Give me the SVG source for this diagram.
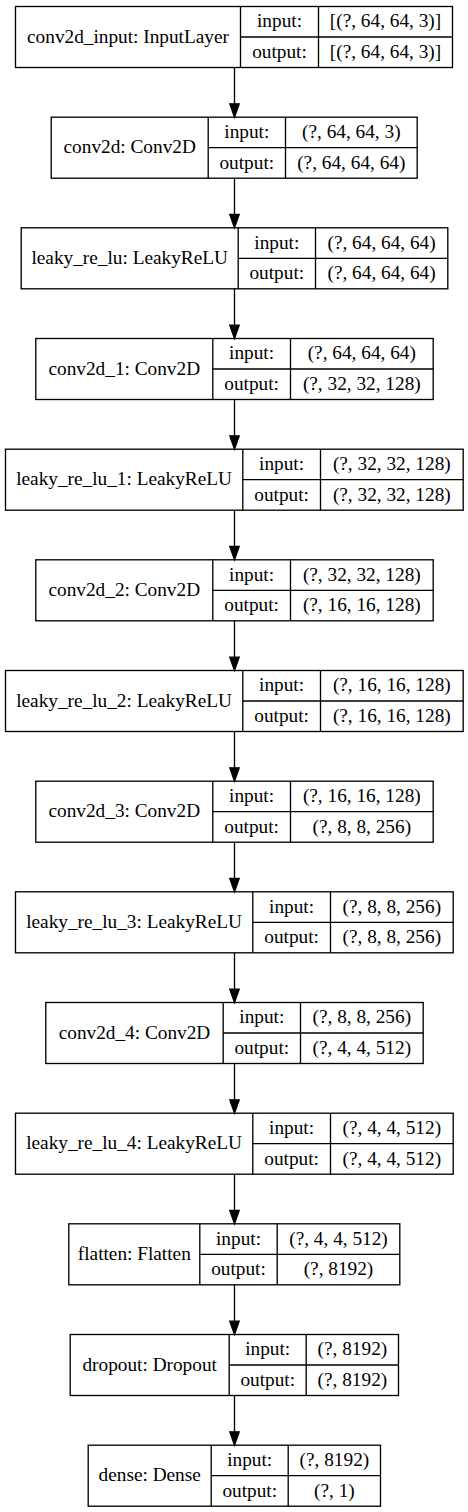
<svg xmlns="http://www.w3.org/2000/svg" width="468" height="1512" viewBox="0 0 468 1512">
<style>
.box{fill:none;stroke:#000;stroke-width:1.33}
.ln{stroke:#000;stroke-width:1.33}
.t{font-family:'Liberation Serif','Times New Roman',Times,serif;font-size:19.3px;fill:#000;text-anchor:middle}
.edge{stroke:#000;stroke-width:1.33;fill:none}
.head{fill:#000;stroke:#000;stroke-width:1.33}
</style>
<rect width="468" height="1512" fill="#fff"/>
<g id="connectors">
<path class="edge" d="M234.5,67.5V103.8"/><polygon class="head" points="229.8,103.8 234.5,117.2 239.2,103.8"/>
<path class="edge" d="M234.5,178.2V214.5"/><polygon class="head" points="229.8,214.5 234.5,227.8 239.2,214.5"/>
<path class="edge" d="M234.5,288.8V325.2"/><polygon class="head" points="229.8,325.2 234.5,338.5 239.2,325.2"/>
<path class="edge" d="M234.5,399.5V435.8"/><polygon class="head" points="229.8,435.8 234.5,449.2 239.2,435.8"/>
<path class="edge" d="M234.5,510.2V546.5"/><polygon class="head" points="229.8,546.5 234.5,559.8 239.2,546.5"/>
<path class="edge" d="M234.5,620.8V657.2"/><polygon class="head" points="229.8,657.2 234.5,670.5 239.2,657.2"/>
<path class="edge" d="M234.5,731.5V767.8"/><polygon class="head" points="229.8,767.8 234.5,781.2 239.2,767.8"/>
<path class="edge" d="M234.5,842.2V878.5"/><polygon class="head" points="229.8,878.5 234.5,891.8 239.2,878.5"/>
<path class="edge" d="M234.5,952.8V989.2"/><polygon class="head" points="229.8,989.2 234.5,1002.5 239.2,989.2"/>
<path class="edge" d="M234.5,1063.5V1099.8"/><polygon class="head" points="229.8,1099.8 234.5,1113.2 239.2,1099.8"/>
<path class="edge" d="M234.5,1174.2V1210.5"/><polygon class="head" points="229.8,1210.5 234.5,1223.8 239.2,1210.5"/>
<path class="edge" d="M234.5,1284.8V1321.2"/><polygon class="head" points="229.8,1321.2 234.5,1334.5 239.2,1321.2"/>
<path class="edge" d="M234.5,1395.5V1431.8"/><polygon class="head" points="229.8,1431.8 234.5,1445.2 239.2,1431.8"/>
</g>

<g id="conv2d_input" transform="translate(0,6.5)">
<rect class="box" x="15.5" y="0" width="437" height="61"/>
<path class="ln" d="M240.5,0V61M318.5,0V61M240.5,30.5H452.5"/>
<text class="t" x="128" y="36.1">conv2d_input: InputLayer</text>
<text class="t" x="279.5" y="20.9">input:</text>
<text class="t" x="385.5" y="20.9">[(?, 64, 64, 3)]</text>
<text class="t" x="279.5" y="51.4">output:</text>
<text class="t" x="385.5" y="51.4">[(?, 64, 64, 3)]</text>
</g>

<g id="conv2d" transform="translate(0,117.2)">
<rect class="box" x="51.2" y="0" width="366" height="61"/>
<path class="ln" d="M208.2,0V61M285.5,0V61M208.2,30.5H417.2"/>
<text class="t" x="129.7" y="36.1">conv2d: Conv2D</text>
<text class="t" x="246.8" y="20.9">input:</text>
<text class="t" x="351.3" y="20.9">(?, 64, 64, 3)</text>
<text class="t" x="246.8" y="51.4">output:</text>
<text class="t" x="351.3" y="51.4">(?, 64, 64, 64)</text>
</g>

<g id="leaky_re_lu" transform="translate(0,227.8)">
<rect class="box" x="21.2" y="0" width="426.6" height="61"/>
<path class="ln" d="M238.2,0V61M315.5,0V61M238.2,30.5H447.8"/>
<text class="t" x="129.7" y="36.1">leaky_re_lu: LeakyReLU</text>
<text class="t" x="276.8" y="20.9">input:</text>
<text class="t" x="381.6" y="20.9">(?, 64, 64, 64)</text>
<text class="t" x="276.8" y="51.4">output:</text>
<text class="t" x="381.6" y="51.4">(?, 64, 64, 64)</text>
</g>

<g id="conv2d_1" transform="translate(0,338.5)">
<rect class="box" x="35.8" y="0" width="397.4" height="61"/>
<path class="ln" d="M212.8,0V61M290.5,0V61M212.8,30.5H433.2"/>
<text class="t" x="124.3" y="36.1">conv2d_1: Conv2D</text>
<text class="t" x="251.6" y="20.9">input:</text>
<text class="t" x="361.8" y="20.9">(?, 64, 64, 64)</text>
<text class="t" x="251.6" y="51.4">output:</text>
<text class="t" x="361.8" y="51.4">(?, 32, 32, 128)</text>
</g>

<g id="leaky_re_lu_1" transform="translate(0,449.2)">
<rect class="box" x="5.5" y="0" width="457.7" height="61"/>
<path class="ln" d="M242.8,0V61M320.5,0V61M242.8,30.5H463.2"/>
<text class="t" x="124.1" y="36.1">leaky_re_lu_1: LeakyReLU</text>
<text class="t" x="281.6" y="20.9">input:</text>
<text class="t" x="391.8" y="20.9">(?, 32, 32, 128)</text>
<text class="t" x="281.6" y="51.4">output:</text>
<text class="t" x="391.8" y="51.4">(?, 32, 32, 128)</text>
</g>

<g id="conv2d_2" transform="translate(0,559.8)">
<rect class="box" x="35.8" y="0" width="397.4" height="61"/>
<path class="ln" d="M212.8,0V61M290.5,0V61M212.8,30.5H433.2"/>
<text class="t" x="124.3" y="36.1">conv2d_2: Conv2D</text>
<text class="t" x="251.6" y="20.9">input:</text>
<text class="t" x="361.8" y="20.9">(?, 32, 32, 128)</text>
<text class="t" x="251.6" y="51.4">output:</text>
<text class="t" x="361.8" y="51.4">(?, 16, 16, 128)</text>
</g>

<g id="leaky_re_lu_2" transform="translate(0,670.5)">
<rect class="box" x="5.5" y="0" width="457.7" height="61"/>
<path class="ln" d="M242.8,0V61M320.5,0V61M242.8,30.5H463.2"/>
<text class="t" x="124.1" y="36.1">leaky_re_lu_2: LeakyReLU</text>
<text class="t" x="281.6" y="20.9">input:</text>
<text class="t" x="391.8" y="20.9">(?, 16, 16, 128)</text>
<text class="t" x="281.6" y="51.4">output:</text>
<text class="t" x="391.8" y="51.4">(?, 16, 16, 128)</text>
</g>

<g id="conv2d_3" transform="translate(0,781.2)">
<rect class="box" x="35.8" y="0" width="397.4" height="61"/>
<path class="ln" d="M212.8,0V61M290.5,0V61M212.8,30.5H433.2"/>
<text class="t" x="124.3" y="36.1">conv2d_3: Conv2D</text>
<text class="t" x="251.6" y="20.9">input:</text>
<text class="t" x="361.8" y="20.9">(?, 16, 16, 128)</text>
<text class="t" x="251.6" y="51.4">output:</text>
<text class="t" x="361.8" y="51.4">(?, 8, 8, 256)</text>
</g>

<g id="leaky_re_lu_3" transform="translate(0,891.8)">
<rect class="box" x="15.5" y="0" width="437.7" height="61"/>
<path class="ln" d="M252.8,0V61M330.5,0V61M252.8,30.5H453.2"/>
<text class="t" x="134.1" y="36.1">leaky_re_lu_3: LeakyReLU</text>
<text class="t" x="291.6" y="20.9">input:</text>
<text class="t" x="391.8" y="20.9">(?, 8, 8, 256)</text>
<text class="t" x="291.6" y="51.4">output:</text>
<text class="t" x="391.8" y="51.4">(?, 8, 8, 256)</text>
</g>

<g id="conv2d_4" transform="translate(0,1002.5)">
<rect class="box" x="45.8" y="0" width="377.4" height="61"/>
<path class="ln" d="M223.2,0V61M300.5,0V61M223.2,30.5H423.2"/>
<text class="t" x="134.5" y="36.1">conv2d_4: Conv2D</text>
<text class="t" x="261.8" y="20.9">input:</text>
<text class="t" x="361.8" y="20.9">(?, 8, 8, 256)</text>
<text class="t" x="261.8" y="51.4">output:</text>
<text class="t" x="361.8" y="51.4">(?, 4, 4, 512)</text>
</g>

<g id="leaky_re_lu_4" transform="translate(0,1113.2)">
<rect class="box" x="15.5" y="0" width="437.7" height="61"/>
<path class="ln" d="M252.8,0V61M330.5,0V61M252.8,30.5H453.2"/>
<text class="t" x="134.1" y="36.1">leaky_re_lu_4: LeakyReLU</text>
<text class="t" x="291.6" y="20.9">input:</text>
<text class="t" x="391.8" y="20.9">(?, 4, 4, 512)</text>
<text class="t" x="291.6" y="51.4">output:</text>
<text class="t" x="391.8" y="51.4">(?, 4, 4, 512)</text>
</g>

<g id="flatten" transform="translate(0,1223.8)">
<rect class="box" x="68.8" y="0" width="331" height="61"/>
<path class="ln" d="M199.8,0V61M277.2,0V61M199.8,30.5H399.8"/>
<text class="t" x="134.3" y="36.1">flatten: Flatten</text>
<text class="t" x="238.5" y="20.9">input:</text>
<text class="t" x="338.5" y="20.9">(?, 4, 4, 512)</text>
<text class="t" x="238.5" y="51.4">output:</text>
<text class="t" x="338.5" y="51.4">(?, 8192)</text>
</g>

<g id="dropout" transform="translate(0,1334.5)">
<rect class="box" x="70.2" y="0" width="328.3" height="61"/>
<path class="ln" d="M229.2,0V61M306.2,0V61M229.2,30.5H398.5"/>
<text class="t" x="149.7" y="36.1">dropout: Dropout</text>
<text class="t" x="267.7" y="20.9">input:</text>
<text class="t" x="352.4" y="20.9">(?, 8192)</text>
<text class="t" x="267.7" y="51.4">output:</text>
<text class="t" x="352.4" y="51.4">(?, 8192)</text>
</g>

<g id="dense" transform="translate(0,1445.2)">
<rect class="box" x="88.2" y="0" width="292.3" height="61"/>
<path class="ln" d="M211.2,0V61M288.2,0V61M211.2,30.5H380.5"/>
<text class="t" x="149.7" y="36.1">dense: Dense</text>
<text class="t" x="249.7" y="20.9">input:</text>
<text class="t" x="334.4" y="20.9">(?, 8192)</text>
<text class="t" x="249.7" y="51.4">output:</text>
<text class="t" x="334.4" y="51.4">(?, 1)</text>
</g>
</svg>
